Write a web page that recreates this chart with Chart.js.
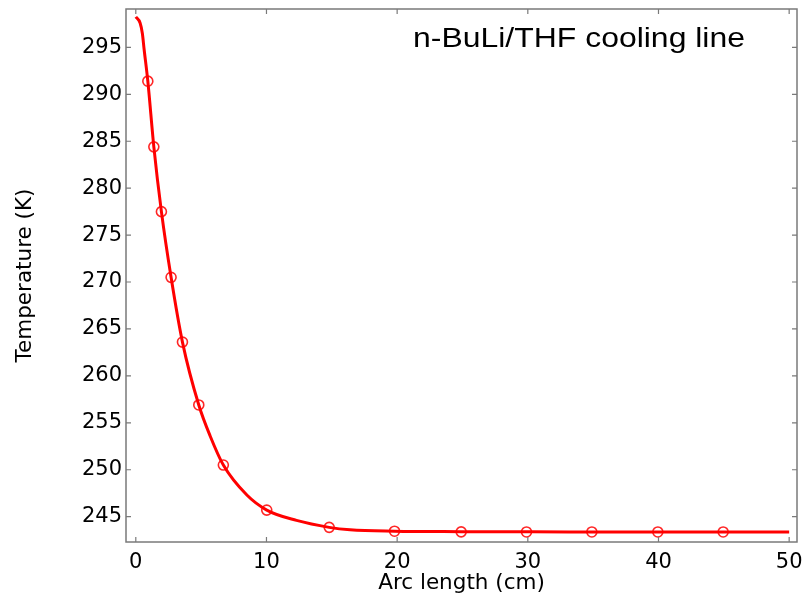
<!DOCTYPE html>
<html>
<head>
<meta charset="utf-8">
<script src="https://cdn.jsdelivr.net/npm/chart.js@4"></script>
<style>
  html, body { margin: 0; padding: 0; background: #fff; }
  #wrap { width: 805px; height: 596px; }
</style>
</head>
<body>
<div id="wrap"><canvas id="myChart" width="805" height="596"></canvas></div>
<script>
// curve
const curveX = [0, 0.33, 0.5, 0.64, 0.92, 1.38, 1.96, 2.70, 3.57, 4.82, 5.69, 6.70, 8.5, 10.02, 12.3, 14.8, 16.4, 19.8, 24.9, 30, 35, 40, 45, 50];
const curveT = [298.24, 297.6, 296.5, 294.75, 291.4, 284.4, 277.5, 270.5, 263.6, 256.9, 253.6, 250.5, 247.3, 245.7, 244.6, 243.86, 243.6, 243.45, 243.4, 243.38, 243.37, 243.37, 243.37, 243.37];

// circle markers along the line
const markerX = [0.92, 1.38, 1.96, 2.70, 3.57, 4.82, 6.70, 10.02, 14.8, 19.8, 24.9, 29.9, 34.9, 39.95, 44.95];
const markerT = [291.4, 284.4, 277.5, 270.5, 263.6, 256.9, 250.5, 245.7, 243.86, 243.45, 243.38, 243.37, 243.37, 243.37, 243.37];

const xTicks = [0, 10, 20, 30, 40, 50];
const yTicks = [245, 250, 255, 260, 265, 270, 275, 280, 285, 290, 295];

const titel = "n-BuLi/THF cooling line";
const frameColor = "#7a7a7a";

const ctx = document.getElementById("myChart");

// frame box, inward ticks and the title inside the plot
const rahmen = {
    id: "rahmen",
    afterDraw(chart) {
        const c = chart.ctx;
        const a = chart.chartArea;
        const sx = chart.scales.x;
        const sy = chart.scales.y;
        c.save();
        c.strokeStyle = frameColor;
        c.lineWidth = 1.5;
        c.strokeRect(a.left, a.top, a.right - a.left, a.bottom - a.top);
        c.lineWidth = 1.2;
        c.beginPath();
        xTicks.forEach(v => {
            const px = sx.getPixelForValue(v);
            c.moveTo(px, a.bottom); c.lineTo(px, a.bottom - 5);
            c.moveTo(px, a.top); c.lineTo(px, a.top + 5);
        });
        yTicks.forEach(v => {
            const py = sy.getPixelForValue(v);
            c.moveTo(a.left, py); c.lineTo(a.left + 5, py);
            c.moveTo(a.right, py); c.lineTo(a.right - 5, py);
        });
        c.stroke();
        // title is a bit wider than plain Arial in the original
        c.fillStyle = "#000";
        c.font = "27px 'Liberation Sans', Arial, sans-serif";
        c.textBaseline = "alphabetic";
        c.textAlign = "left";
        const w = c.measureText(titel).width;
        c.translate(413, 47);
        c.scale(332 / w, 1);
        c.fillText(titel, 0, 0);
        c.restore();
    }
};

new Chart(ctx, {
    type: "line",
    data: {
        datasets: [
            {
                label: "Kurve",
                data: curveX.map((x, i) => ({ x: x, y: curveT[i] })),
                borderColor: "#ff0000",
                borderWidth: 3,
                pointRadius: 0,
                cubicInterpolationMode: "monotone",
                fill: false
            },
            {
                label: "Marker",
                data: markerX.map((x, i) => ({ x: x, y: markerT[i] })),
                showLine: false,
                pointStyle: "circle",
                pointRadius: 5,
                pointBorderWidth: 1.6,
                pointBorderColor: "rgba(255,0,0,0.85)",
                pointBackgroundColor: "rgba(255,255,255,0)"
            }
        ]
    },
    options: {
        responsive: false,
        animation: false,
        layout: { padding: { top: 9, right: 8, left: 0, bottom: 0 } },
        plugins: {
            legend: { display: false },
            tooltip: { enabled: false }
        },
        scales: {
            x: {
                type: "linear",
                min: -0.75,
                max: 50.6,
                afterBuildTicks: s => { s.ticks = xTicks.map(v => ({ value: v })); },
                afterFit: s => { s.height = 54; s.paddingLeft = 0; s.paddingRight = 0; },
                grid: { drawOnChartArea: false, drawTicks: false },
                border: { display: false },
                ticks: {
                    color: "#000",
                    padding: 8,
                    font: { family: "'DejaVu Sans'", size: 21 }
                },
                title: {
                    display: true,
                    text: "Arc length (cm)",
                    color: "#000",
                    padding: { top: -4, bottom: 0 },
                    font: { family: "'DejaVu Sans'", size: 21.5 }
                }
            },
            y: {
                type: "linear",
                min: 242.3,
                max: 299.09,
                afterBuildTicks: s => { s.ticks = yTicks.map(v => ({ value: v })); },
                afterFit: s => { s.width = 126; s.paddingTop = 0; s.paddingBottom = 0; },
                grid: { drawOnChartArea: false, drawTicks: false },
                border: { display: false },
                ticks: {
                    color: "#000",
                    padding: 4,
                    font: { family: "'DejaVu Sans'", size: 21 }
                },
                title: {
                    display: true,
                    text: "Temperature (K)",
                    color: "#000",
                    padding: { top: 13, bottom: 0 },
                    font: { family: "'DejaVu Sans'", size: 21.5 }
                }
            }
        }
    },
    plugins: [rahmen]
});
</script>
</body>
</html>
